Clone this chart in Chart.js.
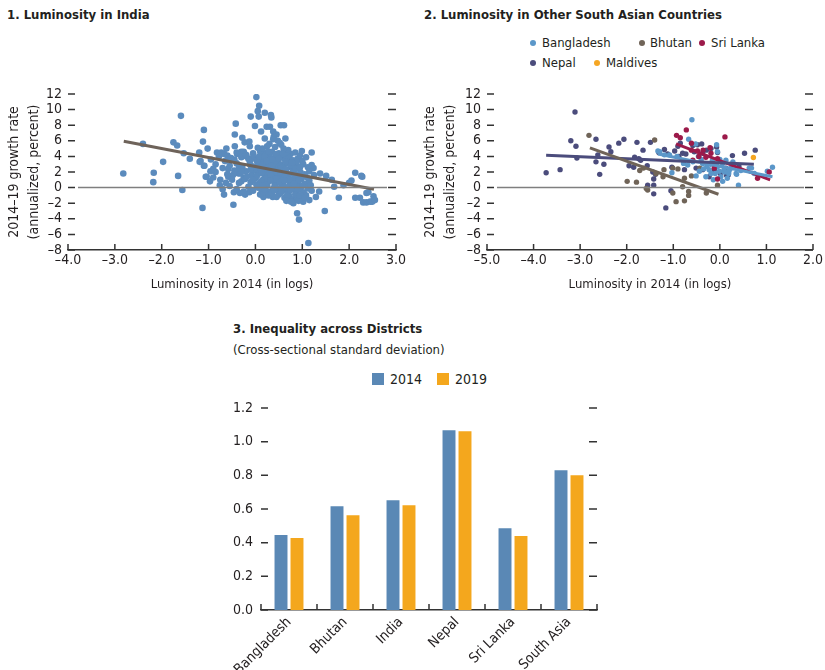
<!DOCTYPE html>
<html>
<head>
<meta charset="utf-8">
<script src="https://cdn.jsdelivr.net/npm/chart.js@4.4.1/dist/chart.umd.min.js"></script>
<style>
  body { margin: 0; background: #fff; width: 825px; height: 670px; position: relative; overflow: hidden;
         font-family: 'Liberation Sans Narrow', 'Arial Narrow', 'DejaVu Sans Condensed', sans-serif; color: #231f20; }
  canvas { position: absolute; }
  .title { position: absolute; font-weight: bold; font-size: 13px; white-space: nowrap; }
  .sub { position: absolute; font-size: 13px; white-space: nowrap; }
  .lg { position: absolute; font-size: 13px; line-height: 16px; white-space: nowrap; }
  .dot { position: absolute; width: 6px; height: 6px; border-radius: 50%; }
  .box { position: absolute; width: 12px; height: 12px; }
</style>
</head>
<body>
<div class="title" style="left:7px;top:7px">1. Luminosity in India</div>
<div class="title" style="left:424px;top:7px">2. Luminosity in Other South Asian Countries</div>
<div class="title" style="left:233px;top:321px">3. Inequality across Districts</div>
<div class="sub" style="left:233px;top:342px">(Cross-sectional standard deviation)</div>

<!-- panel 2 legend -->
<div class="dot" style="left:530px;top:40px;background:#5b97c9"></div><div class="lg" style="left:542px;top:35px">Bangladesh</div>
<div class="dot" style="left:639px;top:40px;background:#706458"></div><div class="lg" style="left:650px;top:35px">Bhutan</div>
<div class="dot" style="left:699px;top:40px;background:#9c1a4a"></div><div class="lg" style="left:711px;top:35px">Sri Lanka</div>
<div class="dot" style="left:530px;top:60px;background:#4b4c7c"></div><div class="lg" style="left:542px;top:55px">Nepal</div>
<div class="dot" style="left:594px;top:60px;background:#f5a623"></div><div class="lg" style="left:606px;top:55px">Maldives</div>

<!-- panel 3 legend -->
<div class="box" style="left:372px;top:373px;background:#5a88b5"></div><div class="lg" style="left:390px;top:371px;font-size:14px">2014</div>
<div class="box" style="left:437px;top:373px;background:#f4a71d"></div><div class="lg" style="left:455px;top:371px;font-size:14px">2019</div>

<canvas id="c1" width="410" height="300" style="left:0;top:0"></canvas>
<canvas id="c2" width="415" height="300" style="left:410px;top:0"></canvas>
<canvas id="c3" width="420" height="280" style="left:200px;top:390px"></canvas>

<script>
// ---- data ----
// panel 1: India districts, [luminosity 2014 (log), growth 2014-19 %]
const indiaPoints = [
  [-2.82,1.8],[-2.40,5.6],[-2.17,1.9],[-2.18,0.7],[-1.97,3.3],[-1.75,5.8],[-1.67,5.4],[-1.65,1.5],[-1.59,9.2],[-1.56,-0.3],
  [-1.53,4.4],[-1.40,3.7],[-1.20,4.5],[-1.17,3.4],[-1.12,5.9],[-1.10,7.4],[-1.10,2.8],[-1.13,-2.6],[-1.06,1.4],[-1.02,5.0],
  [-0.96,2.1],[-0.97,0.8],[-0.90,1.3],[-0.85,2.0],[-0.82,4.5],[-0.76,0.3],[-0.73,4.5],[-0.67,4.3],[-0.67,-0.9],[-0.63,0.6],
  [-0.62,5.0],[-0.58,2.4],[-0.58,1.4],[-0.55,3.8],[-0.47,-2.2],[-0.46,-0.6],[-0.44,6.8],[-0.42,8.2],[-0.44,5.3],[-0.39,4.3],
  [-0.36,1.8],[-0.33,-0.7],[-0.30,0.8],[-0.28,6.4],[-0.23,5.8],[-0.22,-0.9],[-0.19,4.0],[-0.13,5.9],[-0.12,5.3],[-0.13,-0.6],
  [-0.10,9.1],[-0.07,2.7],[-0.01,7.9],[0.02,11.6],[0.05,9.8],[0.08,10.5],[0.07,9.1],[0.20,9.6],[0.12,7.2],[0.24,7.8],
  [0.33,9.3],[0.34,9.0],[0.31,7.8],[0.38,7.2],[0.45,6.8],[0.54,8.0],[0.61,8.0],[0.64,6.3],[0.52,5.7],[0.39,6.5],
  [0.20,6.3],[0.37,-1.2],[0.17,-1.2],[0.81,-2.0],[0.89,-3.3],[0.93,-4.1],[1.13,-7.1],[1.02,-1.8],[0.99,4.7],[1.20,4.5],
  [1.24,2.5],[1.36,-0.5],[1.38,1.8],[1.51,1.5],[1.48,-3.0],[1.29,-1.2],[1.63,1.0],[1.68,0.1],[1.78,-1.3],[1.88,0.3],
  [2.00,0.6],[2.05,0.9],[2.13,1.9],[2.13,-1.3],[2.23,-1.3],[2.28,1.4],[2.30,-1.9],[2.37,-1.9],[2.41,-0.6],[2.45,-1.8],
  [2.49,-1.8],[2.52,-1.1],[2.55,-1.6],[2.26,1.5],[2.37,-0.7],
  [-0.95,3.6],[-0.85,3.0],[-0.78,4.0],[-0.70,2.5],[-0.65,3.4],[-0.60,4.1],[-0.52,3.8],[-0.48,1.6],[-0.40,4.5],[-0.35,2.5],
  [-0.30,4.6],[-0.25,1.3],[-0.90,2.4],[-0.75,1.0],[-0.55,0.2],[-0.70,-0.2],[-0.25,-0.5],[-1.19,3.3],[-1.09,2.8],[-1.04,1.4],
  [-0.25,4.6],[-0.05,4.4],[0.10,4.7],[0.22,4.5],[0.35,4.6],[0.50,4.4],[0.62,4.6],[0.75,4.3],[0.85,4.5],[0.70,4.8],
  [0.15,5.0],[0.42,5.2],[0.55,5.5],[0.30,5.6],[0.48,6.0],[0.38,6.2],[0.60,5.0],[0.25,5.3],[0.05,5.1],[0.68,4.1],
  [-0.45,3.6],[-0.30,3.9],[-0.15,3.7],[-0.05,3.9],[0.02,3.5],[0.10,3.8],[0.18,3.6],[0.27,3.9],[0.33,3.4],[0.40,3.8],
  [0.47,3.5],[0.55,3.9],[0.63,3.6],[0.72,3.8],[0.80,3.5],[0.90,3.7],[1.00,3.4],[1.08,3.9],[0.95,4.1],[0.12,4.2],
  [0.30,4.2],[0.52,4.1],[-0.20,4.2],
  [-0.55,2.8],[-0.40,3.1],[-0.28,2.6],[-0.12,3.0],[-0.02,2.7],[0.06,3.1],[0.14,2.6],[0.22,3.0],[0.30,2.7],[0.38,3.1],
  [0.45,2.6],[0.53,3.0],[0.60,2.7],[0.68,3.1],[0.76,2.6],[0.84,3.0],[0.92,2.7],[1.02,3.0],[1.12,2.6],[1.20,2.9],
  [0.18,3.3],[0.42,3.3],[0.88,3.3],
  [-0.60,1.7],[-0.45,2.2],[-0.32,1.8],[-0.20,2.1],[-0.08,1.6],[0.00,2.2],[0.08,1.8],[0.16,2.2],[0.24,1.6],[0.32,2.1],
  [0.40,1.7],[0.48,2.2],[0.56,1.6],[0.64,2.0],[0.72,1.7],[0.80,2.2],[0.88,1.6],[0.96,2.0],[1.05,1.7],[1.15,2.1],
  [1.25,1.6],[0.12,2.4],[0.36,2.4],[0.60,2.4],
  [-0.50,1.0],[-0.35,0.6],[-0.22,1.1],[-0.10,0.7],[0.00,1.2],[0.08,0.5],[0.16,1.0],[0.25,0.6],[0.33,1.1],[0.41,0.5],
  [0.50,1.0],[0.58,0.6],[0.66,1.1],[0.74,0.5],[0.82,1.0],[0.90,0.6],[0.98,1.1],[1.06,0.5],[1.15,0.9],[0.20,1.4],
  [0.45,1.4],[0.70,1.3],[0.95,1.4],
  [-0.40,-0.2],[-0.15,0.1],[-0.05,-0.4],[0.05,0.0],[0.13,-0.3],[0.22,0.1],[0.30,-0.5],[0.38,-0.1],[0.47,-0.4],[0.55,0.1],
  [0.63,-0.3],[0.71,-0.6],[0.79,-0.1],[0.87,-0.5],[0.95,-0.2],[1.03,-0.6],[1.12,-0.1],[1.20,-0.4],[0.25,0.3],[0.60,0.3],
  [0.90,0.2],
  [0.10,-0.9],[0.28,-1.0],[0.50,-0.9],[0.62,-1.3],[0.72,-1.1],[0.80,-1.5],[0.88,-1.2],[0.98,-1.4],[1.08,-1.0],[0.66,-1.7],
  [0.76,-1.8],[0.92,-1.7],[1.15,-1.6],
  [0.05,3.3],[0.15,2.9],[0.25,2.3],[0.35,2.8],[0.45,2.0],[0.55,2.5],[0.65,2.3],[0.75,2.9],[0.85,2.4],[0.95,2.6],
  [0.03,1.5],[0.13,1.9],[0.23,1.2],[0.33,1.5],[0.43,1.1],[0.53,1.9],[0.63,1.4],[0.73,1.0],[0.83,1.6],[0.93,0.9],
  [0.02,0.4],[0.12,0.8],[0.22,0.4],[0.32,0.9],[0.42,0.2],[0.52,0.7],[0.62,0.9],[0.72,0.2],[0.82,0.5],[0.92,-0.2],
  [0.18,-0.6],[0.35,-0.7],[0.45,-1.2],[0.55,-0.6],[0.68,-0.9],[0.85,-0.9],[0.95,-1.0],[1.05,-1.3],[0.75,-0.3],[0.20,-0.2],
  [0.08,4.0],[0.20,4.0],[0.28,4.6],[0.44,4.3],[0.58,4.3],[0.65,3.3],[0.78,3.2],[0.36,3.6],[0.50,3.7],[0.24,3.4],
  [-0.10,2.3],[-0.18,1.4],[-0.05,1.0],[-0.30,2.1],[-0.12,3.4],[1.10,1.3],[1.00,0.2],[1.18,0.3],[0.15,0.3],[0.40,-0.3]
];
const indiaFit = [[-2.81,5.94],[2.53,-0.2]];

// panel 2: other South Asian countries
const bangladeshPoints = [
  [-0.60,8.7],[-0.67,6.2],[-1.33,4.7],[-1.29,4.6],[-1.19,4.2],[-1.08,4.2],[-1.03,1.9],[-0.92,4.0],[-0.78,3.1],[-0.69,2.9],
  [-0.58,3.3],[-0.52,5.6],[-0.51,1.5],[-0.46,4.0],[-0.44,2.1],[-0.37,3.1],[-0.30,1.4],[-0.28,2.7],[-0.23,2.3],[-0.19,1.8],
  [-0.16,3.5],[-0.14,1.0],[-0.10,1.8],[-0.07,5.5],[-0.05,2.7],[-0.05,4.6],[-0.01,2.1],[0.02,1.4],[0.06,3.1],[0.06,0.8],
  [0.09,2.3],[0.13,3.5],[0.16,1.2],[0.19,1.8],[0.24,2.5],[0.31,2.9],[0.35,1.8],[0.36,1.7],[0.40,0.3],[0.63,2.5],
  [0.68,2.5],[0.74,1.8],[1.02,2.1],[1.13,2.6],[-0.20,3.0],[0.00,3.6],[-0.35,2.4],[0.10,2.0],[0.20,2.2],[-0.40,3.6],
  [0.45,2.2],[0.28,3.3]
];
const bhutanPoints = [
  [-2.81,6.7],[-1.40,6.1],[-1.99,0.8],[-1.79,0.7],[-1.72,2.2],[-1.64,2.5],[-1.55,-0.3],[-1.58,-0.1],[-1.37,1.8],[-1.22,1.4],
  [-1.20,2.3],[-1.01,2.5],[-1.01,-0.7],[-0.94,-1.8],[-0.80,0.1],[-0.76,-1.7],[-0.76,1.2],[-0.67,-0.5],[-0.67,-1.0],[-0.61,1.5],
  [-0.43,2.5],[-0.29,-0.7],[-0.05,0.3],[-0.90,2.4]
];
const sriLankaPoints = [
  [-0.93,6.7],[-0.85,6.4],[-0.72,7.4],[-0.61,5.7],[-0.61,4.8],[-0.48,4.7],[-0.36,4.8],[-0.21,5.1],[-0.19,4.4],[-0.58,3.5],
  [0.11,6.5],[-0.05,1.1],[-0.12,2.5],[0.81,1.2],[1.06,2.0],[-0.45,4.0],[-0.05,3.7],[-0.30,3.9]
];
const nepalPoints = [
  [-3.73,1.9],[-3.43,2.3],[-3.11,9.7],[-3.20,6.0],[-3.09,5.3],[-3.07,3.8],[-2.66,6.2],[-2.62,4.2],[-2.66,3.3],[-2.58,1.7],
  [-2.49,3.0],[-2.38,5.2],[-2.34,4.6],[-2.17,5.7],[-2.06,6.2],[-1.95,2.8],[-1.85,2.6],[-1.83,3.9],[-1.78,5.8],[-1.74,3.7],
  [-1.70,3.5],[-1.65,4.8],[-1.56,2.8],[-1.49,5.8],[-1.44,2.0],[-1.42,1.1],[-1.55,0.3],[-1.42,0.3],[-1.42,-0.8],[-1.38,1.7],
  [-1.31,4.5],[-1.19,4.9],[-1.16,-2.6],[-1.12,4.3],[-1.05,-0.4],[-1.03,2.6],[-0.97,4.7],[-0.88,4.0],[-0.85,5.7],[-0.80,4.4],
  [-0.76,2.3],[-0.73,4.3],[-0.58,5.4],[-0.55,4.6],[-0.48,5.5],[-0.39,5.6],[-0.37,4.4],[-0.37,2.3],[-0.29,4.8],[-0.23,1.4],
  [-0.19,5.0],[-0.12,2.3],[-0.07,5.2],[-0.05,4.5],[0.01,1.8],[0.14,1.6],[0.18,1.6],[0.13,2.5],[0.27,4.1],[0.41,2.7],
  [0.53,4.4],[0.76,4.8],[-0.51,2.5],[-0.90,5.3]
];
const maldivesPoints = [[0.72,3.85]];
const bangladeshFit = [[-1.33,4.3],[1.13,1.4]];
const bhutanFit = [[-2.79,5.1],[-0.03,-0.85]];
const sriLankaFit = [[-0.94,5.6],[1.08,1.0]];
const nepalFit = [[-3.73,4.15],[0.73,3.0]];

// panel 3: cross-sectional standard deviation
const barCategories = ['Bangladesh', 'Bhutan', 'India', 'Nepal', 'Sri Lanka', 'South Asia'];
const sd2014 = [0.445, 0.617, 0.652, 1.068, 0.486, 0.830];
const sd2019 = [0.427, 0.563, 0.623, 1.062, 0.439, 0.801];

// ---- styles ----
const FONT = "'Liberation Sans Narrow', 'Arial Narrow', 'DejaVu Sans Condensed', sans-serif";
Chart.defaults.font.family = FONT;
Chart.defaults.font.size = 14;
Chart.defaults.color = '#231f20';

const signed = (s) => (String(s).startsWith('-') ? '\u2013' + String(s).slice(1) : String(s));
const toXY = (arr) => arr.map(([x, y]) => ({ x, y }));

// short tick dashes drawn inside the plot, zero line, upward x ticks
const axisMarks = {
  id: 'axisMarks',
  afterDatasetsDraw(chart, args, opts) {
    const { ctx, chartArea: a, scales: { x, y } } = chart;
    ctx.save();
    if (opts.zeroInset != null) {
      const z = y.getPixelForValue(0);
      ctx.strokeStyle = '#7f7f7f';
      ctx.lineWidth = 1.5;
      ctx.beginPath();
      ctx.moveTo(a.left + opts.zeroInset, z);
      ctx.lineTo(a.right - opts.zeroInset + 1, z);
      ctx.stroke();
    }
    ctx.strokeStyle = '#333';
    ctx.lineWidth = 1.5;
    ctx.beginPath();
    y.ticks.forEach((t) => {
      const py = y.getPixelForValue(t.value);
      ctx.moveTo(a.left, py); ctx.lineTo(a.left + 7, py);
      ctx.moveTo(a.right - 8, py); ctx.lineTo(a.right, py);
    });
    let xs;
    if (opts.categories) {
      xs = x.ticks.map((t, i) => x.getPixelForValue(i - 0.5));
      xs.push(x.getPixelForValue(x.ticks.length - 0.5));
    } else {
      xs = x.ticks.map((t) => x.getPixelForValue(t.value));
    }
    xs.forEach((px) => { ctx.moveTo(px, a.bottom); ctx.lineTo(px, a.bottom - 6); });
    ctx.stroke();
    ctx.restore();
  }
};

const pointSet = (data, color, r) => ({
  data: toXY(data), backgroundColor: color, borderWidth: 0, pointRadius: r, order: 2
});
const fitLine = (data, color) => ({
  data: toXY(data), borderColor: color, borderWidth: 3, showLine: true, pointRadius: 0, order: 1
});

const scatterOptions = (xMin, xMax, yWidth, padding, titlePad) => ({
  responsive: false,
  animation: false,
  layout: { padding },
  plugins: { legend: { display: false }, tooltip: { enabled: false }, axisMarks: { zeroInset: 10 } },
  scales: {
    x: {
      type: 'linear', min: xMin, max: xMax,
      ticks: { stepSize: 1, padding: 2, autoSkip: false, callback: (v) => signed(v.toFixed(1)) },
      grid: { display: false, drawTicks: false },
      border: { display: true, color: '#333', width: 1.5 },
      title: { display: true, text: 'Luminosity in 2014 (in logs)', font: { size: 13 }, padding: { top: 0, bottom: 8 } },
      afterFit: (s) => { s.height = 50; }
    },
    y: {
      min: -8, max: 12,
      ticks: { stepSize: 2, padding: 6, autoSkip: false, callback: (v) => signed(v) },
      grid: { display: false, drawTicks: false },
      border: { display: false },
      title: { display: true, text: ['2014\u201319 growth rate', '(annualized, percent)'],
               padding: { top: titlePad, bottom: 0 }, font: { size: 14, lineHeight: 1.4 } },
      afterFit: (s) => { s.width = yWidth; }
    }
  }
});

new Chart(document.getElementById('c1'), {
  type: 'scatter',
  data: { datasets: [fitLine(indiaFit, '#6e635a'), pointSet(indiaPoints, '#5b8bbd', 3.3)] },
  options: scatterOptions(-4, 3, 68, { top: 94, right: 14, left: 0, bottom: 0 }, 5),
  plugins: [axisMarks]
});

new Chart(document.getElementById('c2'), {
  type: 'scatter',
  data: {
    datasets: [
      fitLine(bhutanFit, '#706458'),
      fitLine(nepalFit, '#4b4c7c'),
      fitLine(bangladeshFit, '#5b97c9'),
      fitLine(sriLankaFit, '#9c1a4a'),
      pointSet(maldivesPoints, '#f5a623', 2.7),
      pointSet(sriLankaPoints, '#9c1a4a', 2.7),
      pointSet(bangladeshPoints, '#5b97c9', 2.7),
      pointSet(bhutanPoints, '#706458', 2.7),
      pointSet(nepalPoints, '#4b4c7c', 2.7)
    ]
  },
  options: scatterOptions(-5, 2, 77, { top: 94, right: 11, left: 0, bottom: 0 }, 11),
  plugins: [axisMarks]
});

new Chart(document.getElementById('c3'), {
  type: 'bar',
  data: {
    labels: barCategories,
    datasets: [
      { label: '2014', data: sd2014, backgroundColor: '#5a88b5', categoryPercentage: 0.571, barPercentage: 0.81 },
      { label: '2019', data: sd2019, backgroundColor: '#f4a71d', categoryPercentage: 0.571, barPercentage: 0.81 }
    ]
  },
  options: {
    responsive: false,
    animation: false,
    layout: { padding: { top: 18, right: 23, left: 0, bottom: 0 } },
    plugins: { legend: { display: false }, tooltip: { enabled: false }, axisMarks: { categories: true } },
    scales: {
      x: {
        grid: { display: false, drawTicks: false },
        border: { display: true, color: '#333', width: 1.5 },
        ticks: { minRotation: 45, maxRotation: 45, autoSkip: false, padding: 4 },
        afterFit: (s) => { s.height = 60; }
      },
      y: {
        min: 0, max: 1.2,
        ticks: { stepSize: 0.2, padding: 8, callback: (v) => v.toFixed(1) },
        grid: { display: false, drawTicks: false },
        border: { display: false },
        afterFit: (s) => { s.width = 61; }
      }
    }
  },
  plugins: [axisMarks]
});
</script>
</body>
</html>
